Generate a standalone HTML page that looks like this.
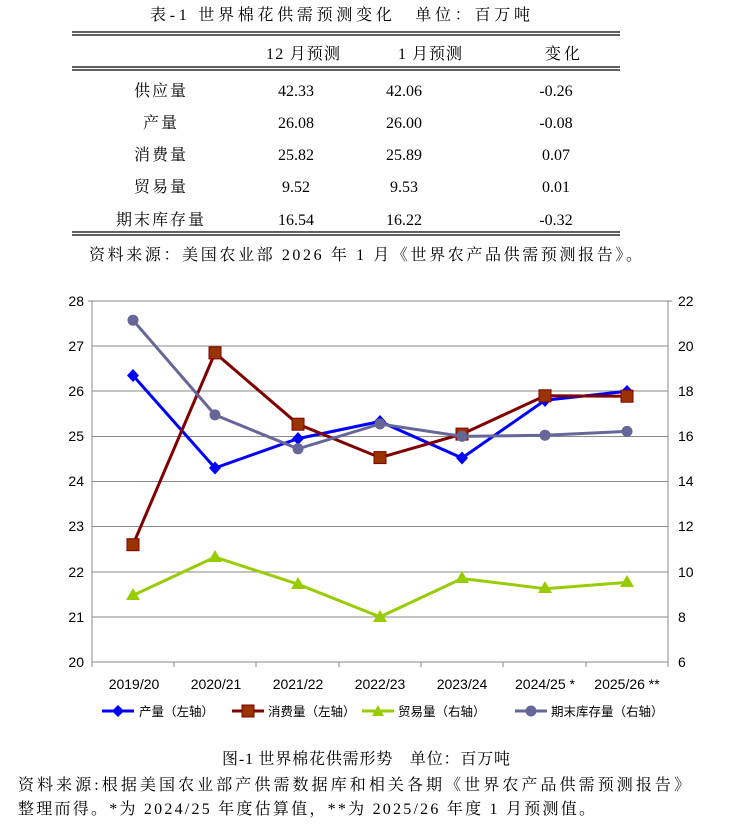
<!DOCTYPE html>
<html><head><meta charset="utf-8"><style>
body{margin:0;background:#fff;width:735px;height:826px;overflow:hidden}
svg{display:block}
.s{font-family:"Liberation Serif","Noto Serif CJK SC",serif;font-size:16px;fill:#000}
.a{font-family:"Liberation Sans","Noto Sans CJK SC",sans-serif;font-size:14px;fill:#000}
.l{font-family:"Liberation Sans","Noto Sans CJK SC",sans-serif;font-size:12.5px;fill:#000}
</style></head><body>
<svg width="735" height="826" xmlns="http://www.w3.org/2000/svg">
<text class="s" x="150" y="20" textLength="380" lengthAdjust="spacing">表-1 世界棉花供需预测变化　单位：百万吨</text>
<g stroke="#000" stroke-width="1.2">
<line x1="72" y1="32" x2="620" y2="32"/><line x1="72" y1="35" x2="620" y2="35"/>
<line x1="72" y1="67" x2="620" y2="67"/><line x1="72" y1="70" x2="620" y2="70"/>
<line x1="72" y1="232" x2="620" y2="232"/><line x1="72" y1="235" x2="620" y2="235"/>
</g>
<g class="s">
<text x="266" y="59" textLength="74" lengthAdjust="spacing">12 月预测</text>
<text x="398" y="59" textLength="64" lengthAdjust="spacing">1 月预测</text>
<text x="545" y="59" textLength="35" lengthAdjust="spacing">变化</text>
<text x="134" y="96" textLength="52" lengthAdjust="spacing">供应量</text>
<text x="143" y="128" textLength="34" lengthAdjust="spacing">产量</text>
<text x="134" y="160" textLength="52" lengthAdjust="spacing">消费量</text>
<text x="134" y="192" textLength="52" lengthAdjust="spacing">贸易量</text>
<text x="116" y="225" textLength="88" lengthAdjust="spacing">期末库存量</text>
</g>
<g class="s" text-anchor="middle">
<text x="296" y="96">42.33</text><text x="404" y="96">42.06</text><text x="556" y="96">-0.26</text>
<text x="296" y="128">26.08</text><text x="404" y="128">26.00</text><text x="556" y="128">-0.08</text>
<text x="296" y="160">25.82</text><text x="404" y="160">25.89</text><text x="556" y="160">0.07</text>
<text x="296" y="192">9.52</text><text x="404" y="192">9.53</text><text x="556" y="192">0.01</text>
<text x="296" y="225">16.54</text><text x="404" y="225">16.22</text><text x="556" y="225">-0.32</text>
</g>
<text class="s" x="89" y="260" textLength="553" lengthAdjust="spacing">资料来源：美国农业部 2026 年 1 月《世界农产品供需预测报告》。</text>

<g stroke="#888" stroke-width="1">
<line x1="92" y1="301" x2="668" y2="301"/><line x1="92" y1="346" x2="668" y2="346"/>
<line x1="92" y1="391" x2="668" y2="391"/><line x1="92" y1="436.5" x2="668" y2="436.5"/>
<line x1="92" y1="481.5" x2="668" y2="481.5"/><line x1="92" y1="526.5" x2="668" y2="526.5"/>
<line x1="92" y1="572" x2="668" y2="572"/><line x1="92" y1="617" x2="668" y2="617"/>
<line x1="92" y1="662" x2="668" y2="662"/>
<line x1="92" y1="301" x2="92" y2="667"/><line x1="668" y1="301" x2="668" y2="662"/>
<line x1="88" y1="301" x2="92" y2="301"/><line x1="668" y1="301" x2="672" y2="301"/>
<line x1="174" y1="662" x2="174" y2="667"/><line x1="256" y1="662" x2="256" y2="667"/>
<line x1="339" y1="662" x2="339" y2="667"/><line x1="421" y1="662" x2="421" y2="667"/>
<line x1="503" y1="662" x2="503" y2="667"/><line x1="586" y1="662" x2="586" y2="667"/>
<line x1="668" y1="662" x2="668" y2="667"/>
</g>
<g class="a" text-anchor="end">
<text x="84" y="306">28</text><text x="84" y="351">27</text><text x="84" y="396">26</text><text x="84" y="441">25</text>
<text x="84" y="486">24</text><text x="84" y="531">23</text><text x="84" y="577">22</text><text x="84" y="622">21</text><text x="84" y="667">20</text>
</g>
<g class="a">
<text x="678" y="306">22</text><text x="678" y="351">20</text><text x="678" y="396">18</text><text x="678" y="441">16</text>
<text x="678" y="486">14</text><text x="678" y="531">12</text><text x="678" y="577">10</text><text x="678" y="622">8</text><text x="678" y="667">6</text>
</g>
<g class="a" text-anchor="middle">
<text x="134" y="689">2019/20</text><text x="216" y="689">2020/21</text><text x="298" y="689">2021/22</text>
<text x="380" y="689">2022/23</text><text x="462" y="689">2023/24</text><text x="545" y="689">2024/25 *</text><text x="627" y="689">2025/26 **</text>
</g>

<polyline fill="none" stroke="#99cc00" stroke-width="3" points="133,595.4 215,557.1 298,584.2 380,616.9 462,578.5 545,588.7 627,582.4"/>
<g fill="#99cc00">
<polygon points="133,588 126,600 140,600"/><polygon points="215,550 208,562 222,562"/><polygon points="298,577 291,589 305,589"/>
<polygon points="380,610 373,622 387,622"/><polygon points="462,571 455,583 469,583"/><polygon points="545,581 538,593 552,593"/><polygon points="627,575 620,587 634,587"/>
</g>
<polyline fill="none" stroke="#0000ff" stroke-width="3" points="133,375.5 215,468 298,438.6 380,421.5 462,458 545,400.3 627,391.3"/>
<g fill="#0000ff">
<polygon points="133,369 139,375.5 133,382 127,375.5"/><polygon points="215,461.5 221,468 215,474.5 209,468"/>
<polygon points="298,432 304,438.6 298,445 292,438.6"/><polygon points="380,415 386,421.5 380,428 374,421.5"/>
<polygon points="462,451.5 468,458 462,464.5 456,458"/><polygon points="545,394 551,400.3 545,407 539,400.3"/><polygon points="627,385 633,391.3 627,398 621,391.3"/>
</g>
<polyline fill="none" stroke="#800000" stroke-width="3" points="133,544.7 215,352.9 298,424.2 380,457.6 462,434.1 545,395.8 627,396.2"/>
<g fill="#993300" stroke="#800000" stroke-width="1">
<rect x="127" y="538.7" width="12" height="12"/><rect x="209" y="346.9" width="12" height="12"/><rect x="292" y="418.2" width="12" height="12"/>
<rect x="374" y="451.6" width="12" height="12"/><rect x="456" y="428.1" width="12" height="12"/><rect x="539" y="389.8" width="12" height="12"/><rect x="621" y="390.2" width="12" height="12"/>
</g>
<polyline fill="none" stroke="#666699" stroke-width="3" points="133,320.2 215,414.9 298,448.8 380,424 462,436.4 545,435.2 627,431.4"/>
<g fill="#666699">
<circle cx="133" cy="320.2" r="5.5"/><circle cx="215" cy="414.9" r="5.5"/><circle cx="298" cy="448.8" r="5.5"/>
<circle cx="380" cy="424" r="5.5"/><circle cx="462" cy="436.4" r="5.5"/><circle cx="545" cy="435.2" r="5.5"/><circle cx="627" cy="431.4" r="5.5"/>
</g>

<g stroke-width="3">
<line x1="102" y1="711" x2="134" y2="711" stroke="#0000ff"/><polygon points="118,705 124,711 118,717 112,711" fill="#0000ff"/>
<line x1="232" y1="711" x2="264" y2="711" stroke="#800000"/><rect x="242" y="705" width="12" height="12" fill="#993300" stroke="#800000" stroke-width="1"/>
<line x1="362" y1="711" x2="394" y2="711" stroke="#99cc00"/><polygon points="378,705 372,716 384,716" fill="#99cc00"/>
<line x1="515" y1="711" x2="547" y2="711" stroke="#666699"/><circle cx="531" cy="711" r="5.5" fill="#666699"/>
</g>
<g class="l">
<text x="139" y="716">产量（左轴）</text><text x="268" y="716">消费量（左轴）</text>
<text x="398" y="716">贸易量（右轴）</text><text x="551" y="716">期末库存量（右轴）</text>
</g>

<text class="s" x="222" y="764" textLength="288" lengthAdjust="spacing">图-1 世界棉花供需形势　单位：百万吨</text>
<text class="s" x="18" y="790" textLength="672" lengthAdjust="spacing">资料来源:根据美国农业部产供需数据库和相关各期《世界农产品供需预测报告》</text>
<text class="s" x="18" y="814" textLength="577" lengthAdjust="spacing">整理而得。*为 2024/25 年度估算值，**为 2025/26 年度 1 月预测值。</text>
</svg>
</body></html>
